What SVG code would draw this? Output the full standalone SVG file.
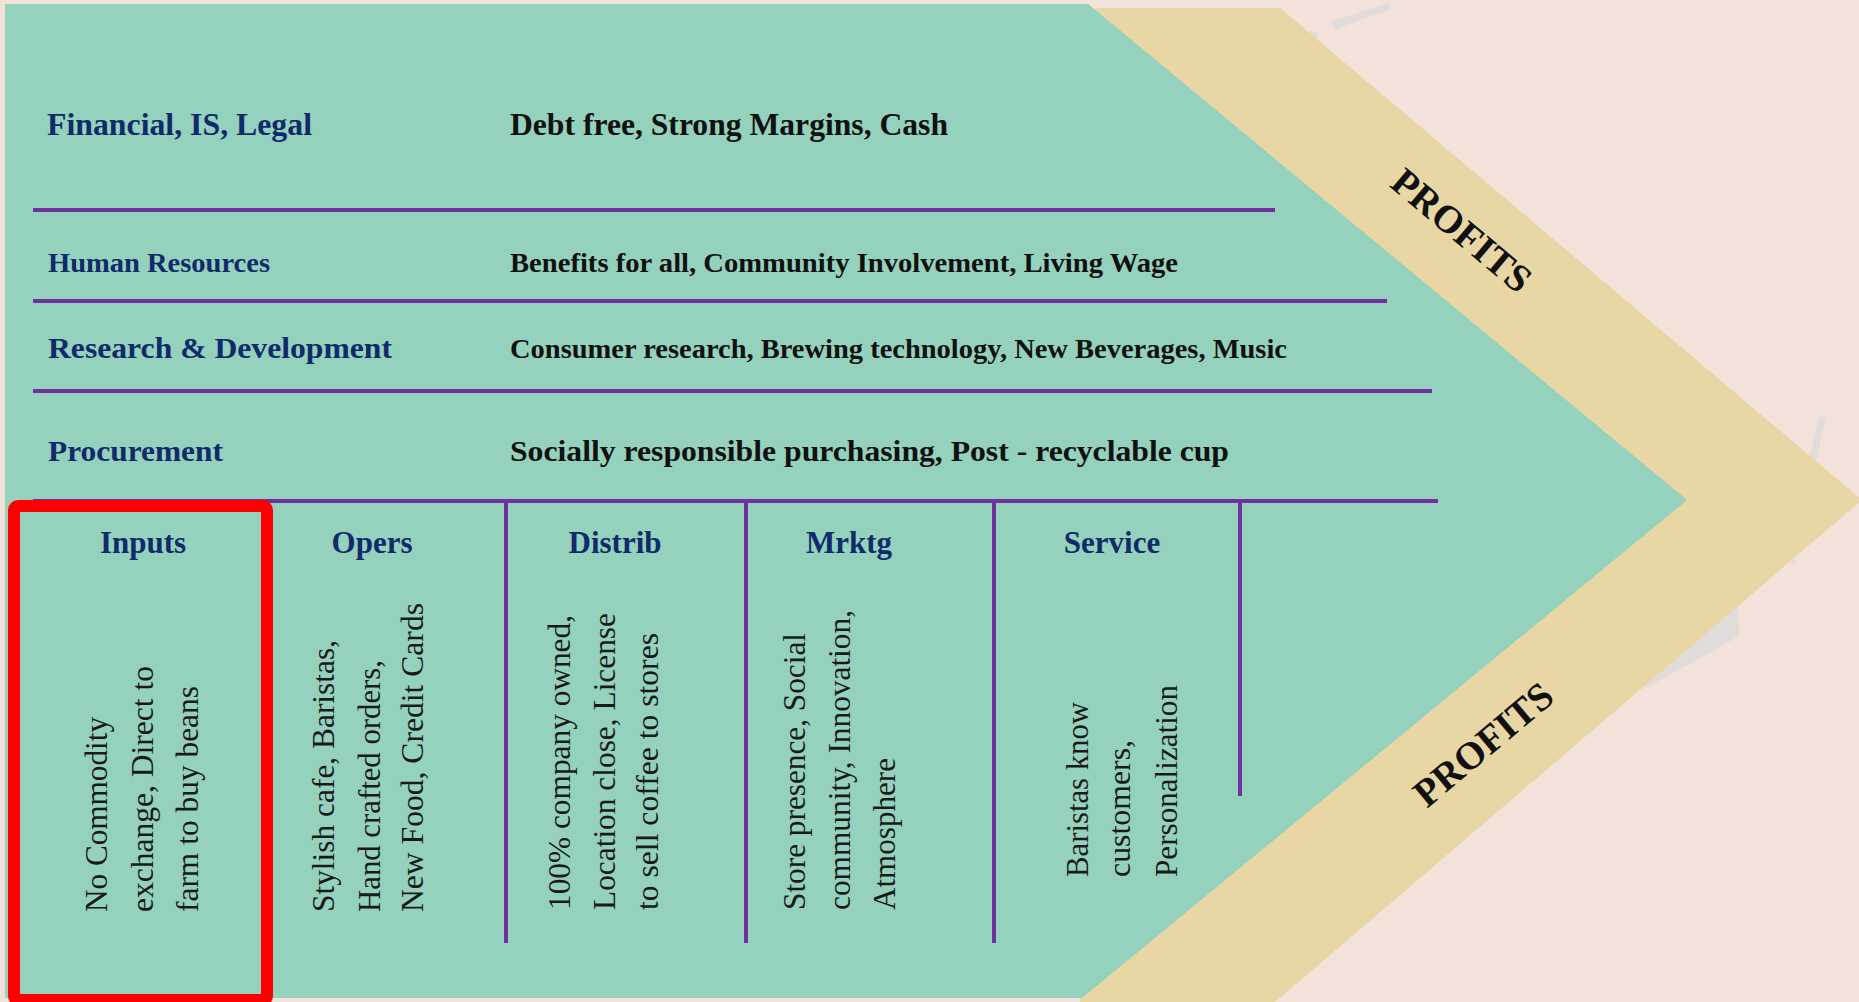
<svg xmlns="http://www.w3.org/2000/svg" width="1859" height="1002" viewBox="0 0 1859 1002">
<style>
.lbl{font-family:"Liberation Serif",serif;font-weight:bold;fill:#112B6A}
.val{font-family:"Liberation Serif",serif;font-weight:bold;fill:#111}
.hdr{font-family:"Liberation Serif",serif;font-weight:bold;fill:#112B6A;font-size:31px;text-anchor:middle}
.body{font-family:"Liberation Serif",serif;font-size:32px;fill:#1a1a1a}
.prof{font-family:"Liberation Serif",serif;font-weight:bold;font-size:39px;fill:#111;text-anchor:middle;dominant-baseline:central}
.div{stroke:#7030A0;stroke-width:4;fill:none}
.art{fill:#E0DCD9}
</style>
<rect width="1859" height="1002" fill="#F2E2DA"/>
<g id="artifacts">
<polygon class="art" points="1330,22 1388,3 1392,9 1336,29"/>
<polygon class="art" points="1309,30 1318,33 1316,38 1308,35"/>
<polygon class="art" points="1820,415 1826,418 1816,460 1810,457"/>
<polygon class="art" points="1738,603 1739,636 1646,688 1642,684"/>
<polygon class="art" points="1790,561 1797,560 1794,566"/>
</g>
<g id="profits-band">
<polygon points="1095,8 1280,8 1862,500 1275,1002 1080,1002" fill="#E8D6A4"/>
<text class="prof" transform="translate(1462,230) rotate(40)">PROFITS</text>
<text class="prof" transform="translate(1483,744) rotate(-40)">PROFITS</text>
</g>
<g id="chain-body">
<polygon points="5,4 1088,4 1687,500 1082,998 5,998" fill="#94D2BD"/>
</g>
<g id="lines">
<line class="div" x1="33" y1="210" x2="1275" y2="210"/>
<line class="div" x1="33" y1="301" x2="1387" y2="301"/>
<line class="div" x1="33" y1="391" x2="1432" y2="391"/>
<line class="div" x1="33" y1="501" x2="1438" y2="501"/>
<line class="div" x1="506" y1="501" x2="506" y2="943"/>
<line class="div" x1="746" y1="501" x2="746" y2="943"/>
<line class="div" x1="994" y1="501" x2="994" y2="943"/>
<line class="div" x1="1240" y1="501" x2="1240" y2="796"/>
</g>
<g id="row-financial">
<text class="lbl" x="47" y="135" font-size="31" textLength="265" lengthAdjust="spacingAndGlyphs">Financial, IS, Legal</text>
<text class="val" x="510" y="135" font-size="31" textLength="438" lengthAdjust="spacingAndGlyphs">Debt free, Strong Margins, Cash</text>
</g>
<g id="row-hr">
<text class="lbl" x="48" y="272" font-size="28" textLength="222" lengthAdjust="spacingAndGlyphs">Human Resources</text>
<text class="val" x="510" y="272" font-size="28" textLength="668" lengthAdjust="spacingAndGlyphs">Benefits for all, Community Involvement, Living Wage</text>
</g>
<g id="row-rd">
<text class="lbl" x="48" y="358" font-size="29" textLength="344" lengthAdjust="spacingAndGlyphs">Research &amp; Development</text>
<text class="val" x="510" y="358" font-size="28" textLength="777" lengthAdjust="spacingAndGlyphs">Consumer research, Brewing technology, New Beverages, Music</text>
</g>
<g id="row-procurement">
<text class="lbl" x="48" y="461" font-size="29" textLength="175" lengthAdjust="spacingAndGlyphs">Procurement</text>
<text class="val" x="510" y="461" font-size="29" textLength="719" lengthAdjust="spacingAndGlyphs">Socially responsible purchasing, Post - recyclable cup</text>
</g>
<g id="col-inputs">
<text class="hdr" x="143" y="553">Inputs</text>
<text class="body" transform="translate(107,912) rotate(-90)" textLength="195" lengthAdjust="spacingAndGlyphs">No Commodity</text>
<text class="body" transform="translate(153,912) rotate(-90)" textLength="246" lengthAdjust="spacingAndGlyphs">exchange, Direct to</text>
<text class="body" transform="translate(198,912) rotate(-90)" textLength="226" lengthAdjust="spacingAndGlyphs">farm to buy beans</text>
<rect x="14" y="506" width="253" height="494" rx="4" fill="none" stroke="#FF0000" stroke-width="12"/>
</g>
<g id="col-opers">
<text class="hdr" x="372" y="553">Opers</text>
<text class="body" transform="translate(334,912) rotate(-90)" textLength="272" lengthAdjust="spacingAndGlyphs">Stylish cafe, Baristas,</text>
<text class="body" transform="translate(380,912) rotate(-90)" textLength="252" lengthAdjust="spacingAndGlyphs">Hand crafted orders,</text>
<text class="body" transform="translate(423,912) rotate(-90)" textLength="309" lengthAdjust="spacingAndGlyphs">New Food, Credit Cards</text>
</g>
<g id="col-distrib">
<text class="hdr" x="615" y="553">Distrib</text>
<text class="body" transform="translate(570,910) rotate(-90)" textLength="295" lengthAdjust="spacingAndGlyphs">100% company owned,</text>
<text class="body" transform="translate(615,910) rotate(-90)" textLength="297" lengthAdjust="spacingAndGlyphs">Location close, License</text>
<text class="body" transform="translate(658,910) rotate(-90)" textLength="277" lengthAdjust="spacingAndGlyphs">to sell coffee to stores</text>
</g>
<g id="col-mrktg">
<text class="hdr" x="849" y="553">Mrktg</text>
<text class="body" transform="translate(805,910) rotate(-90)" textLength="277" lengthAdjust="spacingAndGlyphs">Store presence, Social</text>
<text class="body" transform="translate(850,910) rotate(-90)" textLength="300" lengthAdjust="spacingAndGlyphs">community, Innovation,</text>
<text class="body" transform="translate(895,910) rotate(-90)" textLength="152" lengthAdjust="spacingAndGlyphs">Atmosphere</text>
</g>
<g id="col-service">
<text class="hdr" x="1112" y="553">Service</text>
<text class="body" transform="translate(1088,877) rotate(-90)" textLength="175" lengthAdjust="spacingAndGlyphs">Baristas know</text>
<text class="body" transform="translate(1130,877) rotate(-90)" textLength="137" lengthAdjust="spacingAndGlyphs">customers,</text>
<text class="body" transform="translate(1177,877) rotate(-90)" textLength="192" lengthAdjust="spacingAndGlyphs">Personalization</text>
</g>
</svg>
